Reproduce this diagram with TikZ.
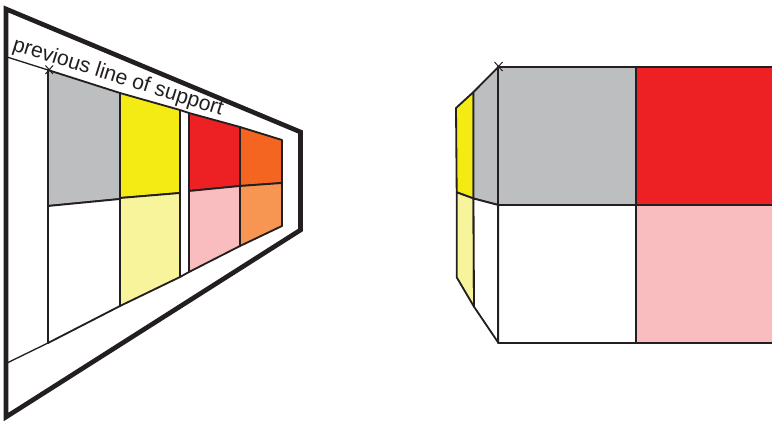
\documentclass[tikz,border=0pt]{standalone}
\usepackage{fontspec}
\setmainfont{Liberation Sans}
\definecolor{inkblack}{HTML}{231F20}
\definecolor{cellgray}{HTML}{BCBEC0}
\definecolor{cellyellow}{HTML}{F4EB14}
\definecolor{paleyellow}{HTML}{F8F49C}
\definecolor{cellred}{HTML}{ED2024}
\definecolor{palered}{HTML}{F9BDBF}
\definecolor{cellorange}{HTML}{F56522}
\definecolor{paleorange}{HTML}{F79552}
\tikzset{
    cell/.style={draw=inkblack, line width=0.055cm, line join=round},
    frame/.style={draw=inkblack, line width=0.14cm, line join=miter},
    support/.style={draw=inkblack, line width=0.04cm},
    crossmark/.style={draw=inkblack, line width=0.03cm}
}
\begin{document}
\begin{tikzpicture}[x=0.03cm, y=-0.03cm]
    \useasboundingbox (0,0) rectangle (772,422);
    % ---- Left panel: oblique view ----
    \draw[frame] (6,9) -- (300.5,132) -- (300.5,230) -- (6,417) -- cycle;
    % Previous line of support
    \draw[support] (7,57) -- (48,70);
    \draw[support] (7,363) -- (48,343);
    \draw[cell] (180,110) -- (189,113);
    \draw[cell] (180,277) -- (189,272);
    \node[anchor=base west, rotate=-17.4, inner sep=0pt, text=inkblack, font=\fontsize{18.1}{20}\selectfont] (supportlabel) at (11.5,50) {previous line of support};
    % Cells, column by column
    \draw[cell, fill=cellgray] (48,70) -- (120,93) -- (120,199) -- (48,206) -- cycle;
    \draw[cell, fill=white] (48,206) -- (120,199) -- (120,306) -- (48,343) -- cycle;
    \draw[cell, fill=cellyellow] (120,93) -- (180,110) -- (180,193) -- (120,198) -- cycle;
    \draw[cell, fill=paleyellow] (120,198) -- (180,193) -- (180,277) -- (120,306) -- cycle;
    \draw[cell, fill=cellred] (189,113) -- (240,127) -- (240,186) -- (189,191) -- cycle;
    \draw[cell, fill=palered] (189,191) -- (240,186) -- (240,246) -- (189,272) -- cycle;
    \draw[cell, fill=cellorange] (240,127) -- (282,140) -- (282,183) -- (240,186) -- cycle;
    \draw[cell, fill=paleorange] (240,186) -- (282,183) -- (282,226) -- (240,246) -- cycle;
    \draw[crossmark] (45.5,65.5) -- (53,74) (53,65.5) -- (45.5,74);
    % ---- Right panel: facing view ----
    \begin{scope}[xshift=0cm]
    \draw[cell, fill=cellyellow] (456,108) -- (473.5,92) -- (473.5,198.5) -- (456.7,192.3) -- cycle;
    \draw[cell, fill=paleyellow] (456.7,192.3) -- (473.5,198.5) -- (474,306.7) -- (456.7,277.3) -- cycle;
    \draw[cell, fill=cellgray] (473.5,92) -- (498.3,67) -- (498.3,205) -- (473.5,198.5) -- cycle;
    \draw[cell, fill=white] (473.5,198.5) -- (498.3,205) -- (498.3,342.7) -- (474,306.7) -- cycle;
    \fill[cellgray] (498.3,67) rectangle (636,205);
    \fill[cellred] (636,67) rectangle (772,205);
    \fill[palered] (636,205) rectangle (772,342.7);
    \draw[cell] (772,67) -- (498.3,67) -- (498.3,342.7) -- (772,342.7);
    \draw[cell] (498.3,205) -- (772,205);
    \draw[cell] (636,67) -- (636,342.7);
    \draw[crossmark] (494.5,62) -- (502.5,71) (502.5,62) -- (494.5,71);
    \end{scope}
\end{tikzpicture}
\end{document}
